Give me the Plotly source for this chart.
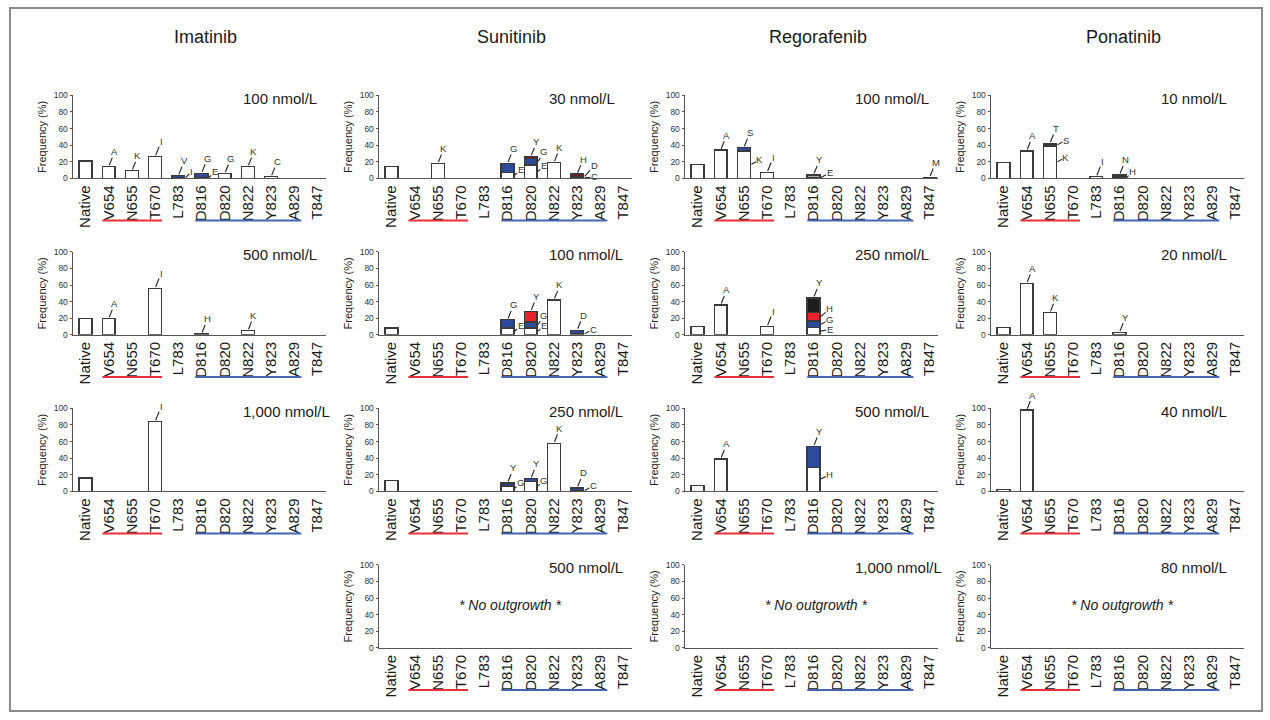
import plotly.graph_objects as go

# ---------------- data ----------------
CATEGORIES = ["Native", "V654", "N655", "T670", "L783", "D816", "D820", "N822", "Y823", "A829", "T847"]
DRUGS = ["Imatinib", "Sunitinib", "Regorafenib", "Ponatinib"]
NO_OUTGROWTH_TEXT = "* No outgrowth *"
Y_TICKS = [0, 20, 40, 60, 80, 100]
RED_GROUP = ["V654", "T670"]      # underlined in red (first..last)
BLUE_GROUP = ["D816", "A829"]     # underlined in blue (first..last)

# Imatinib
IMA_100_WHITE = [21, 14, 9, 26, 1, 1, 5.5, 14, 2, 0, 0]
IMA_100_BLUE = [0, 0, 0, 0, 2, 5, 0, 0, 0, 0, 0]
IMA_100_LABELS = [("V654", "white", "A", "top"), ("N655", "white", "K", "top"), ("T670", "white", "I", "top"),
                  ("L783", "blue", "V", "top"), ("L783", "white", "I", "tight"),
                  ("D816", "blue", "G", "top"), ("D816", "white", "E", "tight"),
                  ("D820", "white", "G", "top"), ("N822", "white", "K", "top"), ("Y823", "white", "C", "top")]
IMA_500_WHITE = [20, 19.5, 0, 56, 0, 1, 0, 5, 0, 0, 0]
IMA_500_LABELS = [("V654", "white", "A", "top"), ("T670", "white", "I", "top"),
                  ("D816", "white", "H", "top"), ("N822", "white", "K", "top")]
IMA_1000_WHITE = [16, 0, 0, 84, 0, 0, 0, 0, 0, 0, 0]
IMA_1000_LABELS = [("T670", "white", "I", "top")]

# Sunitinib
SUN_30_WHITE = [14, 0, 18, 0, 0, 7, 16, 19, 1, 0, 0]
SUN_30_BLUE = [0, 0, 0, 0, 0, 11, 7.5, 0, 1.5, 0, 0]
SUN_30_DARKRED = [0, 0, 0, 0, 0, 0, 2.5, 0, 2.5, 0, 0]
SUN_30_LABELS = [("N655", "white", "K", "top"), ("D816", "blue", "G", "top"), ("D816", "white", "E", "tight"),
                 ("D820", "darkred", "Y", "top"), ("D820", "blue", "G", "tight_hi"), ("D820", "white", "E", "tight"),
                 ("N822", "white", "K", "top"), ("Y823", "darkred", "H", "top"),
                 ("Y823", "blue", "D", "far_hi"), ("Y823", "white", "C", "far_lo")]
SUN_100_WHITE = [8, 0, 0, 0, 0, 8, 8, 42, 1.5, 0, 0]
SUN_100_BLUE = [0, 0, 0, 0, 0, 10, 7.5, 0, 4, 0, 0]
SUN_100_RED = [0, 0, 0, 0, 0, 0, 12.5, 0, 0, 0, 0]
SUN_100_LABELS = [("D816", "blue", "G", "top"), ("D816", "white", "E", "tight"),
                  ("D820", "red", "Y", "top"), ("D820", "blue", "G", "tight_hi"), ("D820", "white", "E", "tight"),
                  ("N822", "white", "K", "top"), ("Y823", "blue", "D", "top"), ("Y823", "white", "C", "side")]
SUN_250_WHITE = [13, 0, 0, 0, 0, 6.5, 12, 58, 1, 0, 0]
SUN_250_BLUE = [0, 0, 0, 0, 0, 3.5, 3, 0, 3, 0, 0]
SUN_250_LABELS = [("D816", "blue", "Y", "top"), ("D816", "white", "G", "tight"),
                  ("D820", "blue", "Y", "top"), ("D820", "white", "G", "tight"),
                  ("N822", "white", "K", "top"), ("Y823", "blue", "D", "top"), ("Y823", "white", "C", "side")]

# Regorafenib
REG_100_WHITE = [17, 34, 33, 7, 0, 1, 0, 0, 0, 0, 1]
REG_100_GRAY = [0, 0, 0, 0, 0, 3, 0, 0, 0, 0, 0]
REG_100_BLUE = [0, 0, 4, 0, 0, 0, 0, 0, 0, 0, 0]
REG_100_LABELS = [("V654", "white", "A", "top"), ("N655", "blue", "S", "top"), ("N655", "white", "K", "side"),
                  ("T670", "white", "I", "top"), ("D816", "gray", "Y", "top"), ("D816", "white", "E", "side"),
                  ("T847", "white", "M", "top")]
REG_250_WHITE = [10, 36, 0, 10, 0, 8.5, 0, 0, 0, 0, 0]
REG_250_BLUE = [0, 0, 0, 0, 0, 8, 0, 0, 0, 0, 0]
REG_250_RED = [0, 0, 0, 0, 0, 10.5, 0, 0, 0, 0, 0]
REG_250_BLACK = [0, 0, 0, 0, 0, 17.5, 0, 0, 0, 0, 0]
REG_250_LABELS = [("V654", "white", "A", "top"), ("T670", "white", "I", "top"),
                  ("D816", "black", "Y", "top"), ("D816", "red", "H", "side_hi"),
                  ("D816", "blue", "G", "side"), ("D816", "white", "E", "side_lo")]
REG_500_WHITE = [7, 39, 0, 0, 0, 29, 0, 0, 0, 0, 0]
REG_500_BLUE = [0, 0, 0, 0, 0, 25, 0, 0, 0, 0, 0]
REG_500_LABELS = [("V654", "white", "A", "top"), ("D816", "blue", "Y", "top"), ("D816", "white", "H", "side")]

# Ponatinib
PON_10_WHITE = [19, 33, 39, 0, 2, 1.5, 0, 0, 0, 0, 0]
PON_10_BLUE = [0, 0, 0, 0, 0, 2.5, 0, 0, 0, 0, 0]
PON_10_DARKRED = [0, 0, 2, 0, 0, 0, 0, 0, 0, 0, 0]
PON_10_BLACK = [0, 0, 1, 0, 0, 0, 0, 0, 0, 0, 0]
PON_10_LABELS = [("V654", "white", "A", "top"), ("N655", "black", "T", "top"), ("N655", "darkred", "S", "side"),
                 ("N655", "white", "K", "side"), ("L783", "white", "I", "top"),
                 ("D816", "blue", "N", "top"), ("D816", "white", "H", "tight")]
PON_20_WHITE = [9, 62, 26.5, 0, 0, 3, 0, 0, 0, 0, 0]
PON_20_LABELS = [("V654", "white", "A", "top"), ("N655", "white", "K", "top"), ("D816", "white", "Y", "top")]
PON_40_WHITE = [2, 98, 0, 0, 0, 0, 0, 0, 0, 0, 0]
PON_40_LABELS = [("V654", "white", "A", "top")]

# panels: (row, col, concentration, layers, labels, no_outgrowth)
PANELS = [
    (0, 0, "100 nmol/L", {"white": IMA_100_WHITE, "blue": IMA_100_BLUE}, IMA_100_LABELS, False),
    (1, 0, "500 nmol/L", {"white": IMA_500_WHITE}, IMA_500_LABELS, False),
    (2, 0, "1,000 nmol/L", {"white": IMA_1000_WHITE}, IMA_1000_LABELS, False),
    (0, 1, "30 nmol/L", {"white": SUN_30_WHITE, "blue": SUN_30_BLUE, "darkred": SUN_30_DARKRED}, SUN_30_LABELS, False),
    (1, 1, "100 nmol/L", {"white": SUN_100_WHITE, "blue": SUN_100_BLUE, "red": SUN_100_RED}, SUN_100_LABELS, False),
    (2, 1, "250 nmol/L", {"white": SUN_250_WHITE, "blue": SUN_250_BLUE}, SUN_250_LABELS, False),
    (3, 1, "500 nmol/L", {}, [], True),
    (0, 2, "100 nmol/L", {"white": REG_100_WHITE, "gray": REG_100_GRAY, "blue": REG_100_BLUE}, REG_100_LABELS, False),
    (1, 2, "250 nmol/L", {"white": REG_250_WHITE, "blue": REG_250_BLUE, "red": REG_250_RED, "black": REG_250_BLACK}, REG_250_LABELS, False),
    (2, 2, "500 nmol/L", {"white": REG_500_WHITE, "blue": REG_500_BLUE}, REG_500_LABELS, False),
    (3, 2, "1,000 nmol/L", {}, [], True),
    (0, 3, "10 nmol/L", {"white": PON_10_WHITE, "blue": PON_10_BLUE, "darkred": PON_10_DARKRED, "black": PON_10_BLACK}, PON_10_LABELS, False),
    (1, 3, "20 nmol/L", {"white": PON_20_WHITE}, PON_20_LABELS, False),
    (2, 3, "40 nmol/L", {"white": PON_40_WHITE}, PON_40_LABELS, False),
    (3, 3, "80 nmol/L", {}, [], True),
]

# ---------------- style ----------------
W, H = 1270, 720
FONT = "Liberation Sans, Arial, Helvetica, sans-serif"
LAYER_ORDER = ["white", "gray", "blue", "red", "darkred", "black"]
LAYER_COLORS = {"white": "#ffffff", "gray": "#a8a8a8", "blue": "#2d4b9c", "red": "#e8222b",
                "darkred": "#7a1518", "black": "#1d1d1d"}
OUTLINE = "#3a3a3a"
AXIS_COLOR = "#555555"
BAR_W = 0.55
X_RANGE = [-0.55, 10.35]
COL_X0 = 72.7
COL_STEP = 306.0
PLOT_W = 253.0
ROW_Y0 = 91.7
ROW_STEP = 158.7
PLOT_H = 84.0
# label placement (pixel offsets of letter from its anchor)
LABEL_OFFSETS = {"top": (6, -15), "side": (9, -5), "side_hi": (9, -8), "side_lo": (9, -2),
                 "tight": (6, -6), "tight_hi": (6, -10), "far_hi": (10, -11), "far_lo": (10, -1)}
LETTER_FONT = dict(size=9.5, color="#333333", family=FONT)

fig = go.Figure()
annotations = []
shapes = []
idx = list(range(len(CATEGORIES)))

for n, (row, col, conc, layers, labels, empty) in enumerate(PANELS, start=1):
    key = "" if n == 1 else str(n)
    xa, ya = "x" + key, "y" + key
    left = COL_X0 + COL_STEP * col
    top = ROW_Y0 + ROW_STEP * row
    xdom = [left / W, (left + PLOT_W) / W]
    ydom = [1 - (top + PLOT_H) / H, 1 - top / H]
    fig.layout["xaxis" + key] = dict(
        domain=xdom, anchor=ya, range=X_RANGE, tickmode="array", tickvals=idx, ticktext=CATEGORIES,
        tickangle=-90, tickfont=dict(size=15, color="#1a1a1a", family=FONT), ticks="",
        showline=True, linecolor=AXIS_COLOR, linewidth=1.3, showgrid=False, zeroline=False, fixedrange=True)
    fig.layout["yaxis" + key] = dict(
        domain=ydom, anchor=xa, range=[0, 100], tickmode="array", tickvals=Y_TICKS,
        ticks="outside", ticklen=2, tickwidth=1, tickcolor=AXIS_COLOR,
        tickfont=dict(size=8.5, color="#333", family=FONT),
        showline=True, linecolor=AXIS_COLOR, linewidth=1.3, showgrid=False, zeroline=False, fixedrange=True,
        title=dict(text="Frequency (%)", font=dict(size=11, color="#222", family=FONT), standoff=4))

    # stacked bars
    base = [0.0] * len(CATEGORIES)
    bounds = {}
    for layer in LAYER_ORDER:
        if layer not in layers:
            continue
        vals = layers[layer]
        bounds[layer] = [(base[i], base[i] + vals[i]) for i in idx]
        base = [base[i] + vals[i] for i in idx]
        fig.add_trace(go.Bar(
            x=idx, y=[v if v else None for v in vals], width=BAR_W, xaxis=xa, yaxis=ya,
            marker=dict(color=LAYER_COLORS[layer], line=dict(color=OUTLINE, width=1.3)),
            showlegend=False, hoverinfo="skip"))
    if not layers:
        fig.add_trace(go.Bar(x=idx, y=[None] * len(idx), xaxis=xa, yaxis=ya, showlegend=False, hoverinfo="skip"))

    # mutation letters with leader lines
    for cat, layer, text, kind in labels:
        i = CATEGORIES.index(cat)
        lo, hi = bounds[layer][i]
        ax, ay = LABEL_OFFSETS[kind]
        if kind == "top":
            x, y, so = i, hi, 1.5
        else:
            x, y, so = i + BAR_W / 2 + 0.03, (lo + hi) / 2, 0.5
        annotations.append(dict(x=x, y=y, xref=xa, yref=ya, text=text, showarrow=True, arrowhead=0,
                                arrowwidth=1.1, arrowcolor="#222", ax=ax, ay=ay, standoff=so,
                                borderpad=0, font=LETTER_FONT))

    # concentration label
    annotations.append(dict(x=0.665, y=0.965, xref=xa + " domain", yref=ya + " domain", text=conc,
                            showarrow=False, xanchor="left", yanchor="middle",
                            font=dict(size=15, color="#1a1a1a", family=FONT)))
    if empty:
        annotations.append(dict(x=0.52, y=0.52, xref=xa + " domain", yref=ya + " domain",
                                text="<i>" + NO_OUTGROWTH_TEXT + "</i>", showarrow=False,
                                font=dict(size=14, color="#1a1a1a", family=FONT)))

    # coloured group underlines below tick labels
    for grp, color in ((RED_GROUP, "#e8303a"), (BLUE_GROUP, "#4464b4")):
        i0, i1 = CATEGORIES.index(grp[0]), CATEGORIES.index(grp[1])
        shapes.append(dict(type="line", xref=xa, yref=ya + " domain", x0=i0 - 0.27, x1=i1 + 0.3,
                           y0=-0.51, y1=-0.51, line=dict(color=color, width=2.2)))

# drug titles
for c, drug in enumerate(DRUGS):
    annotations.append(dict(x=(COL_X0 + COL_STEP * c + 133) / W, y=1 - 32 / H, xref="paper", yref="paper",
                            text=drug, showarrow=False, xanchor="center", yanchor="middle",
                            font=dict(size=18, color="#1a1a1a", family=FONT)))

# outer frame
shapes.append(dict(type="rect", xref="paper", yref="paper", x0=10 / W, x1=1262 / W, y0=1 - 716 / H, y1=1 - 3 / H,
                   line=dict(color="#8a8a8a", width=2), fillcolor="rgba(0,0,0,0)"))

fig.update_layout(width=W, height=H, margin=dict(l=0, r=0, t=0, b=0), barmode="stack",
                  paper_bgcolor="white", plot_bgcolor="white", annotations=annotations, shapes=shapes,
                  font=dict(family=FONT), showlegend=False)

fig.write_html("out.html", config={"displayModeBar": False},
               post_script="document.body.style.margin='0';document.body.style.overflow='hidden';")
